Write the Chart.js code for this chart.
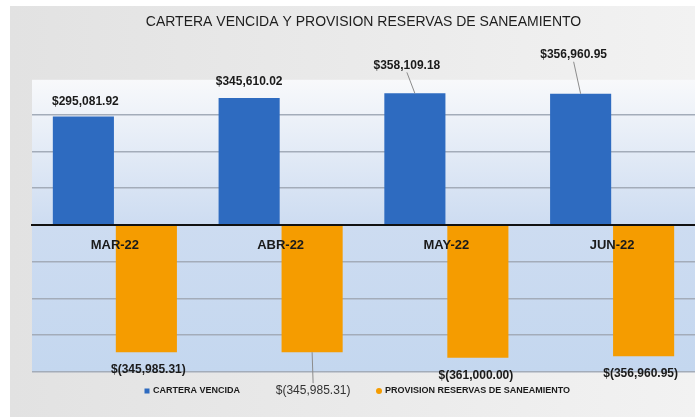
<!DOCTYPE html>
<html>
<head>
<meta charset="utf-8">
<script src="https://cdn.jsdelivr.net/npm/chart.js@4.4.0/dist/chart.umd.min.js"></script>
<style>
    html, body { margin: 0; padding: 0; background: #fff; }
    #wrap { width: 695px; height: 417px; position: relative; }
</style>
</head>
<body>
<div id="wrap"><canvas id="carteraChart"></canvas></div>
<script>
const months = ['MAR-22', 'ABR-22', 'MAY-22', 'JUN-22'];
const carteraVencida = [295081.92, 345610.02, 358109.18, 356960.95];
const provisionReservas = [-345985.31, -345985.31, -361000.00, -356960.95];
const yTicks = [-400000, -300000, -200000, -100000, 0, 100000, 200000, 300000];

// label nudges (px) from the bar end, per dataset
const labelNudge = [
    [[2, -15], [0, -16], [-8, -28], [-7, -39]],
    [[2, 18], [1, 39], [-2, 18], [-3, 18]]
];

const FONT = "'Liberation Sans', Arial, sans-serif";

function money(v) {
    const s = Math.abs(v).toLocaleString('en-US', { minimumFractionDigits: 2, maximumFractionDigits: 2 });
    return v < 0 ? '$(' + s + ')' : '$' + s;
}

// page + plot area backgrounds
const backgroundPlugin = {
    id: 'backgrounds',
    beforeDraw(chart) {
        const { ctx, width, height, chartArea } = chart;
        ctx.save();
        ctx.fillStyle = '#fff';
        ctx.fillRect(0, 0, width, height);
        const g = ctx.createLinearGradient(10, 0, width, 0);
        g.addColorStop(0, '#e2e2e2');
        g.addColorStop(1, '#f2f2f2');
        ctx.fillStyle = g;
        ctx.fillRect(10, 6, width - 10, height - 6);

        const zeroY = chart.scales.y.getPixelForValue(0);
        const pg = ctx.createLinearGradient(0, chartArea.top, 0, chartArea.bottom);
        const zf = (zeroY - chartArea.top) / (chartArea.bottom - chartArea.top);
        pg.addColorStop(0, '#f8f9fb');
        pg.addColorStop(zf, '#cddcf1');
        pg.addColorStop(1, '#c4d7ef');
        ctx.fillStyle = pg;
        ctx.fillRect(chartArea.left, chartArea.top, chartArea.right - chartArea.left, chartArea.bottom - chartArea.top);
        ctx.restore();
    }
};

// value labels with leader lines + legend
const labelsPlugin = {
    id: 'valueLabels',
    afterDraw(chart) {
        const ctx = chart.ctx;
        ctx.save();
        ctx.textAlign = 'center';
        ctx.textBaseline = 'middle';
        chart.data.datasets.forEach((ds, di) => {
            const meta = chart.getDatasetMeta(di);
            meta.data.forEach((bar, i) => {
                const [dx, dy] = labelNudge[di][i];
                const lx = bar.x + dx;
                const ly = bar.y + dy;
                const plain = (di === 1 && i === 1);
                if (Math.abs(dy) > 25) {
                    ctx.strokeStyle = '#8c8c8c';
                    ctx.lineWidth = 1;
                    ctx.beginPath();
                    if (dy < 0) {
                        ctx.moveTo(lx, ly + 7);
                    } else {
                        ctx.moveTo(lx, ly - 8);
                    }
                    ctx.lineTo(bar.x, bar.y);
                    ctx.stroke();
                }
                ctx.fillStyle = plain ? '#333' : '#1a1a1a';
                ctx.font = (plain ? 'normal ' : 'bold ') + '12px ' + FONT;
                ctx.fillText(money(ds.data[i]), lx, ly);
            });
        });

        // legend
        const legendY = 391;
        const items = [
            { x: 147, color: chart.data.datasets[0].backgroundColor, square: true },
            { x: 379, color: chart.data.datasets[1].backgroundColor, square: false }
        ];
        ctx.font = 'bold 9px ' + FONT;
        ctx.textAlign = 'left';
        items.forEach((it, k) => {
            ctx.fillStyle = it.color;
            if (it.square) {
                ctx.fillRect(it.x - 2.5, legendY - 2.5, 5, 5);
            } else {
                ctx.beginPath();
                ctx.arc(it.x, legendY, 3, 0, Math.PI * 2);
                ctx.fill();
            }
            ctx.fillStyle = '#1a1a1a';
            ctx.fillText(chart.data.datasets[k].label, it.x + 6, legendY);
        });
        ctx.restore();
    }
};

new Chart(document.getElementById('carteraChart'), {
    type: 'bar',
    data: {
        labels: months,
        datasets: [{
            label: 'CARTERA VENCIDA',
            data: carteraVencida,
            backgroundColor: '#2e6bc0',
            categoryPercentage: 0.76,
            barPercentage: 0.97
        }, {
            label: 'PROVISION RESERVAS DE SANEAMIENTO',
            data: provisionReservas,
            backgroundColor: '#f59c00',
            categoryPercentage: 0.76,
            barPercentage: 0.97
        }]
    },
    options: {
        responsive: true,
        maintainAspectRatio: false,
        animation: false,
        layout: {
            padding: { left: 32, right: 0, top: 0, bottom: 45 }
        },
        plugins: {
            legend: { display: false },
            tooltip: { enabled: false },
            title: {
                display: true,
                text: 'CARTERA VENCIDA Y PROVISION RESERVAS DE SANEAMIENTO',
                color: '#1e1e1e',
                font: { family: FONT, size: 14, weight: 'normal', lineHeight: 1.2 },
                padding: { top: 14, bottom: 49 }
            }
        },
        scales: {
            x: {
                position: { y: 0 },
                grid: { display: false, drawTicks: false },
                border: { color: '#111', width: 2, z: 1 },
                ticks: {
                    z: 1,
                    color: '#1a1a1a',
                    font: { family: FONT, size: 13, weight: 'bold' },
                    padding: 13
                }
            },
            y: {
                min: -400000,
                max: 395000,
                afterBuildTicks(scale) {
                    scale.ticks = yTicks.map(v => ({ value: v }));
                },
                ticks: { display: false },
                border: { display: false },
                grid: {
                    drawTicks: false,
                    lineWidth: 1.5,
                    color: ctx => ctx.tick && ctx.tick.value === 0 ? 'rgba(0,0,0,0)' : '#a3acb9'
                }
            }
        }
    },
    plugins: [backgroundPlugin, labelsPlugin]
});
</script>
</body>
</html>
